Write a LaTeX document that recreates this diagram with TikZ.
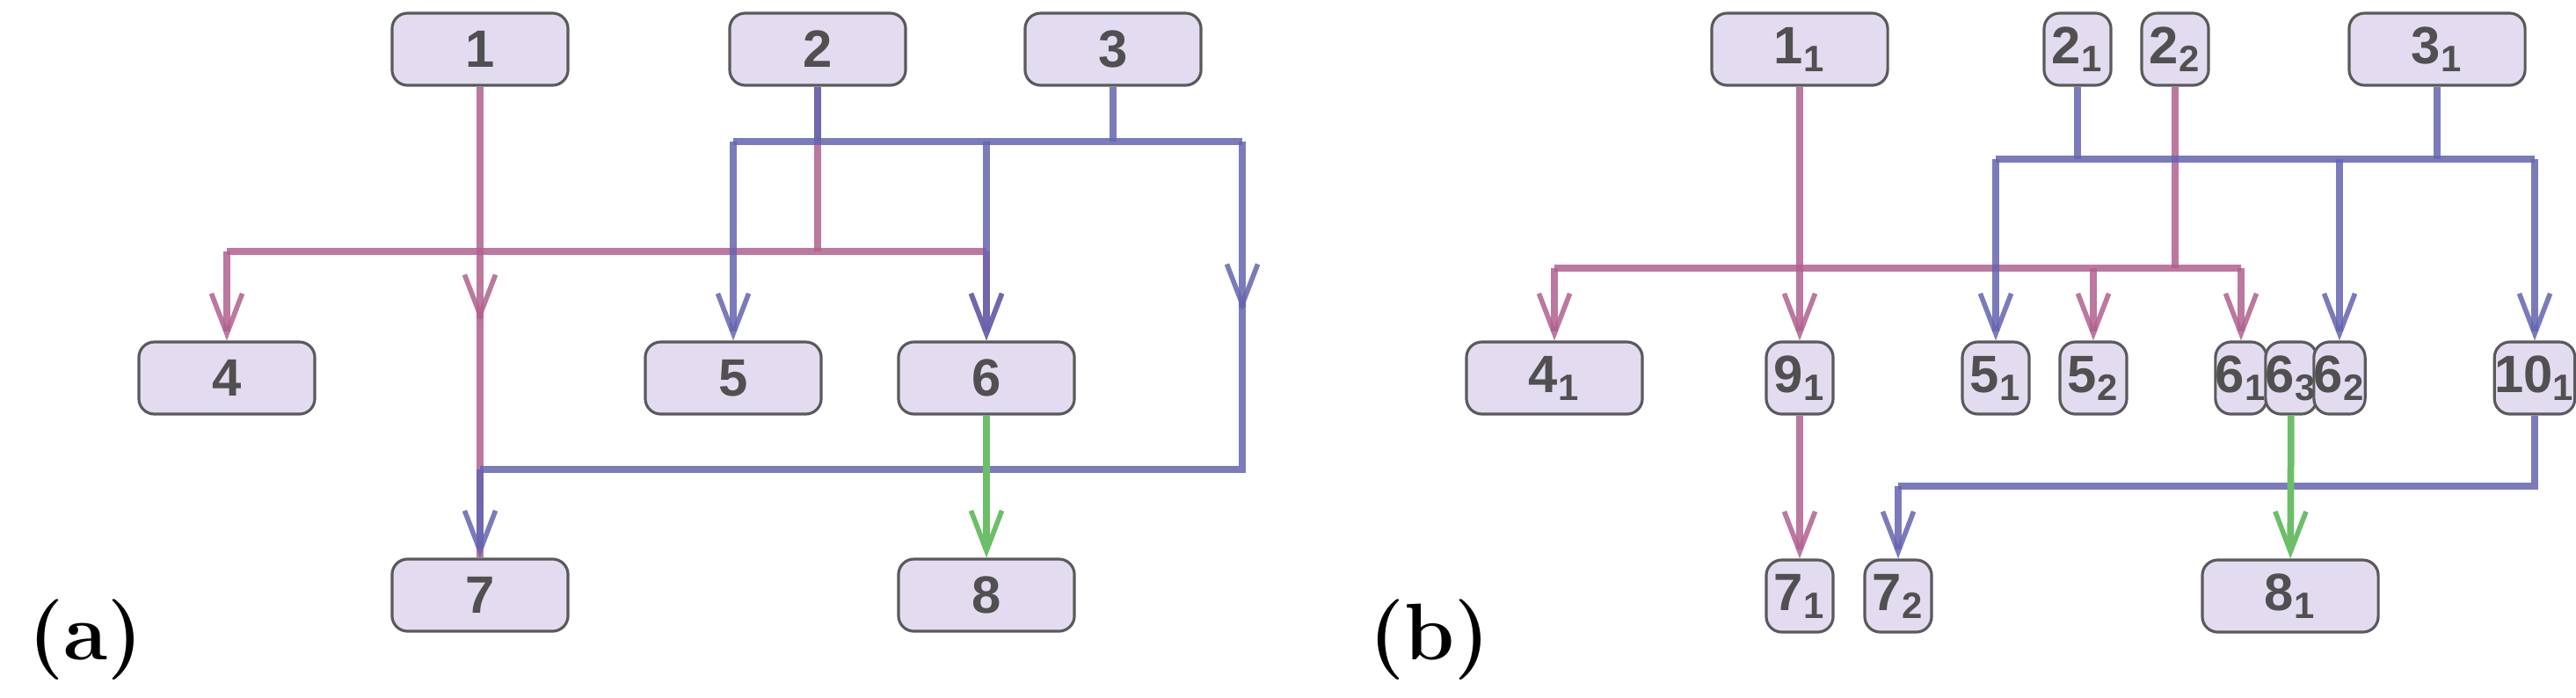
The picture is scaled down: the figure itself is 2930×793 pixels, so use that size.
\documentclass[tikz,border=0pt]{standalone}
\usepackage{fontspec}
\newfontfamily\boxfont{Liberation Sans}
\usetikzlibrary{arrows.meta}
\definecolor{boxfill}{HTML}{E3DCF0}
\definecolor{boxline}{HTML}{5A5A5A}
\definecolor{boxtext}{HTML}{505050}
\definecolor{pinkline}{HTML}{B0608E}
\definecolor{blueline}{HTML}{6464B0}
\definecolor{greenline}{HTML}{6CBF68}
\tikzset{
  box/.style={draw=boxline, fill=boxfill, rounded corners=5pt, line width=0.9pt,
    minimum height=0.82cm, minimum width=2cm, inner sep=0pt, text=boxtext,
    font=\boxfont\bfseries\fontsize{17}{19}\selectfont},
  slim/.style={box, minimum width=0.76cm},
  tiny/.style={box, minimum width=0.54cm},
  tip/.style={-{Straight Barb[length=13pt,width=10pt,line width=1.6pt]}},
  pk/.style={draw=pinkline, line width=2.2pt, opacity=0.85},
  bl/.style={draw=blueline, line width=2.2pt, opacity=0.85},
  gr/.style={draw=greenline, line width=2.2pt},
  panel/.style={font=\fontsize{26}{30}\selectfont, anchor=west}
}
\begin{document}
\begin{tikzpicture}[x=0.01cm, y=-0.01cm]
\useasboundingbox (0,0) rectangle (2930,793);

% PANEL (a)
\node[box] (a1) at (546,56) {1};
\node[box] (a2) at (930,56) {2};
\node[box] (a3) at (1266,56) {3};
\node[box] (a4) at (258,430) {4};
\node[box] (a5) at (834,430) {5};
\node[box] (a6) at (1122,430) {6};
\node[box] (a7) at (546,677) {7};
\node[box] (a8) at (1122,677) {8};
\node[panel] (alab) at (20,728) {\textbf{(a)}};

\coordinate (abusl) at (834,161);
\coordinate (abusr) at (1413,161);
\coordinate (apinkl) at (258,286);
\coordinate (apinkr) at (1122,286);
\coordinate (amid1) at (546,366);
\coordinate (amidr) at (1413,354);
\coordinate (abotr) at (1413,534);
\coordinate (abotl) at (546,534);

% pink
\draw[pk] (a2) -- (a2 |- apinkl);
\draw[pk] (apinkl) -- (apinkr);
\draw[pk,tip] (apinkl) -- (a4);
\draw[pk,tip] (apinkr) -- (a6);
\draw[pk] (a1) -- (a7);
\draw[pk,tip] ([yshift=1pt]amid1) -- (amid1);

% blue
\draw[bl] (a2) -- (a2 |- abusl);
\draw[bl] (a3) -- (a3 |- abusl);
\draw[bl] (abusl) -- (abusr);
\draw[bl,tip] (abusl) -- (a5);
\draw[bl,tip] (a6 |- abusl) -- (a6);
\draw[bl] (abusr) -- (abotr) -- (abotl);
\draw[bl,tip] ([yshift=1pt]amidr) -- (amidr);
\draw[bl,tip] (abotl) -- (a7);

% green
\draw[gr,tip] (a6) -- (a8);

% PANEL (b)
\node[box] (b11) at (2047,56) {1\textsubscript{1}};
\node[slim] (b21) at (2363,56) {2\textsubscript{1}};
\node[slim] (b22) at (2474,56) {2\textsubscript{2}};
\node[box] (b31) at (2772,56) {3\textsubscript{1}};
\node[box] (b41) at (1768,430) {4\textsubscript{1}};
\node[slim] (b91) at (2047,430) {9\textsubscript{1}};
\node[slim] (b51) at (2270,430) {5\textsubscript{1}};
\node[slim] (b52) at (2381,430) {5\textsubscript{2}};
\node[tiny] (b61) at (2549,430) {6\textsubscript{1}};
\node[tiny] (b63) at (2606,430) {6\textsubscript{3}};
\node[tiny] (b62) at (2661,430) {6\textsubscript{2}};
\node[slim] (b101) at (2883,430) {10\textsubscript{1}};
\node[slim] (b71) at (2047,678) {7\textsubscript{1}};
\node[slim] (b72) at (2159,678) {7\textsubscript{2}};
\node[box] (b81) at (2605,678) {8\textsubscript{1}};
\node[panel] (blab) at (1545,728) {\textbf{(b)}};

\coordinate (bbusl) at (2270,181);
\coordinate (bbusr) at (2883,181);
\coordinate (bpinkl) at (1768,305);
\coordinate (bpinkr) at (2549,305);
\coordinate (bbotr) at (2883,553);
\coordinate (bbotl) at (2159,553);

% pink
\draw[pk] (b22) -- (b22 |- bpinkl);
\draw[pk] (bpinkl) -- (bpinkr);
\draw[pk,tip] (bpinkl) -- (b41);
\draw[pk,tip] (b52 |- bpinkl) -- (b52);
\draw[pk,tip] (bpinkr) -- (b61);
\draw[pk,tip] (b11) -- (b91);
\draw[pk,tip] (b91) -- (b71);

% blue
\draw[bl] (b21) -- (b21 |- bbusl);
\draw[bl] (b31) -- (b31 |- bbusl);
\draw[bl] (bbusl) -- (bbusr);
\draw[bl,tip] (bbusl) -- (b51);
\draw[bl,tip] (b62 |- bbusl) -- (b62);
\draw[bl,tip] (bbusr) -- (b101);
\draw[bl] (b101) -- (bbotr) -- (bbotl);
\draw[bl,tip] (bbotl) -- (b72);

% green
\draw[gr,tip] (b63) -- (b81);

\end{tikzpicture}
\end{document}
